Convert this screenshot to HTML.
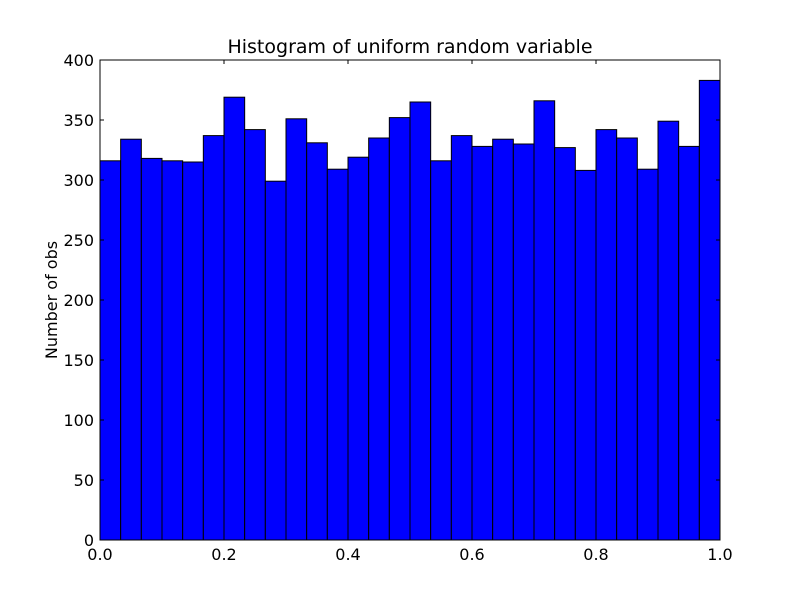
<!DOCTYPE html>
<html><head><meta charset="utf-8"><style>
html,body{margin:0;padding:0;background:#fff;}
svg{display:block;font-family:"DejaVu Sans","Liberation Sans",sans-serif;}
</style></head><body>
<svg id="chart" width="800" height="600" viewBox="0 0 800 600">
<rect x="0" y="0" width="800" height="600" fill="#fff"/>
<text x="410" y="53" text-anchor="middle" font-size="19">Histogram of uniform random variable</text>
<text transform="translate(57,300) rotate(-90)" text-anchor="middle" font-size="16">Number of obs</text>
<g id="bars"></g>
<g id="axes"></g>
</svg>
<script>
const counts = [316,334,318,316,315,337,369,342,299,351,331,309,319,335,352,365,316,337,328,334,330,366,327,308,342,335,309,349,328,383];
const binStart = 0, binEnd = 1;
const xTicks = [0,0.2,0.4,0.6,0.8,1.0];
const xTickLabels = ["0.0","0.2","0.4","0.6","0.8","1.0"];
const yTicks = [0,50,100,150,200,250,300,350,400];
const yTickLabels = ["0","50","100","150","200","250","300","350","400"];

const L=100,R=720,T=60,B=540,yMax=400;
const sx=v=>L+(v-binStart)/(binEnd-binStart)*(R-L);
const sy=v=>B-v/yMax*(B-T);
const NS="http://www.w3.org/2000/svg";
const bars=document.getElementById('bars');
const axes=document.getElementById('axes');
const w=(binEnd-binStart)/counts.length;
counts.forEach((c,i)=>{
  const r=document.createElementNS(NS,'rect');
  const x0=sx(binStart+i*w), x1=sx(binStart+(i+1)*w);
  r.setAttribute('x',x0);r.setAttribute('y',sy(c));
  r.setAttribute('width',x1-x0);r.setAttribute('height',sy(0)-sy(c));
  r.setAttribute('fill','#0000ff');r.setAttribute('stroke','#000');r.setAttribute('stroke-width','1');
  
  
  bars.appendChild(r);
});
const frame=document.createElementNS(NS,'rect');
frame.setAttribute('x',L);frame.setAttribute('y',T);frame.setAttribute('width',R-L);frame.setAttribute('height',B-T);
frame.setAttribute('fill','none');frame.setAttribute('stroke','#000');frame.setAttribute('stroke-width','1');


axes.appendChild(frame);
function line(x1,y1,x2,y2){const l=document.createElementNS(NS,'line');l.setAttribute('x1',x1);l.setAttribute('y1',y1);l.setAttribute('x2',x2);l.setAttribute('y2',y2);l.setAttribute('stroke','#000');l.setAttribute('stroke-width','1');return l;}
xTicks.forEach((v,i)=>{
  const x=sx(v);
  const g=document.createElementNS(NS,'g');
  
  
  g.appendChild(line(x,B,x,B-4));g.appendChild(line(x,T,x,T+4));
  const t=document.createElementNS(NS,'text');
  t.setAttribute('x',x);t.setAttribute('y',B+20);t.setAttribute('text-anchor','middle');t.setAttribute('font-size','16');
  t.textContent=xTickLabels[i];
  g.appendChild(t);axes.appendChild(g);
});
yTicks.forEach((v,i)=>{
  const y=sy(v);
  const g=document.createElementNS(NS,'g');
  
  
  g.appendChild(line(L,y,L+4,y));g.appendChild(line(R,y,R-4,y));
  const t=document.createElementNS(NS,'text');
  t.setAttribute('x',L-6);t.setAttribute('y',y+6);t.setAttribute('text-anchor','end');t.setAttribute('font-size','16');
  t.textContent=yTickLabels[i];
  g.appendChild(t);axes.appendChild(g);
});
</script>
</body></html>
